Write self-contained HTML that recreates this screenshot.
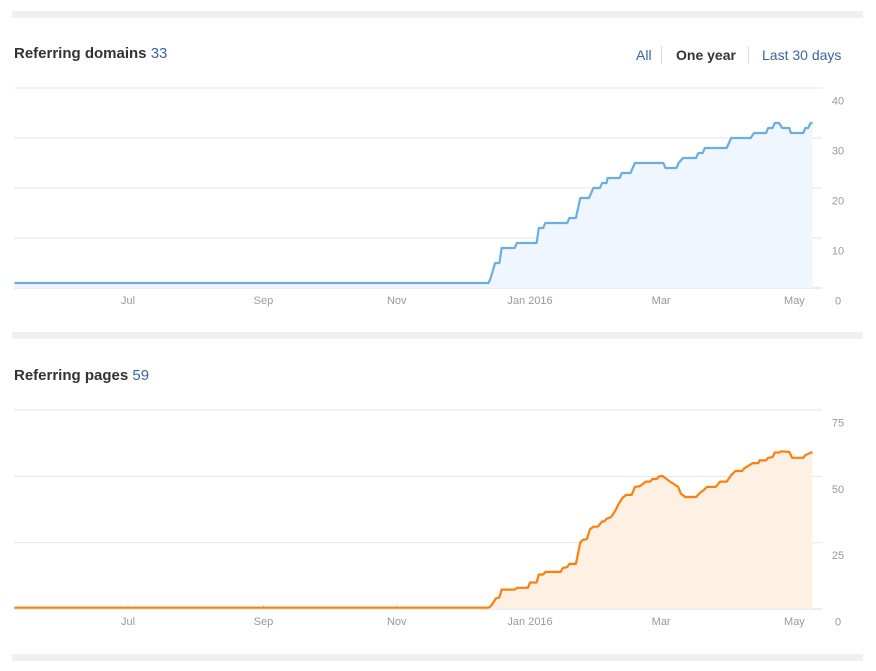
<!DOCTYPE html>
<html><head><meta charset="utf-8"><style>
body{margin:0;background:#fff;font-family:"Liberation Sans",sans-serif}
svg{display:block}
</style></head><body>
<svg id="s" width="876" height="671">
<rect x="12" y="11" width="851" height="7" fill="#f0f0f0"/>
<rect x="12" y="332" width="851" height="7" fill="#f0f0f0"/>
<rect x="12" y="654" width="851" height="7" fill="#f0f0f0"/>
<text x="14" y="58" font-size="15" font-weight="bold" fill="#333">Referring domains <tspan font-weight="normal" fill="#3a64a8">33</tspan></text>
<text x="636" y="60" font-size="14" fill="#3a64a8">All</text>
<rect x="661" y="46" width="1" height="18" fill="#ddd"/>
<text x="676" y="60" font-size="14" font-weight="bold" fill="#333">One year</text>
<rect x="748" y="46" width="1" height="18" fill="#ddd"/>
<text x="762" y="60" font-size="14" fill="#3a64a8">Last 30 days</text>
<text x="14" y="380" font-size="15" font-weight="bold" fill="#333">Referring pages <tspan font-weight="normal" fill="#3a64a8">59</tspan></text>
<g id="c1"></g><g id="c2"></g>
</svg>
<script>
const monthLabels=["Jul","Sep","Nov","Jan 2016","Mar","May"];
const monthDays=[0,62,123,184,244,305];
const domainDays=[-52,165,166,168,170,171,177,178,187,188,190,191,201,202,205,207,211,213,216,217,219,219.5,225,226,230,232,245,246,251,252,254,260,261,263,264,274,276,285,286.5,292,293,295,296,298,299.4,302.6,303.4,309,310,311.3,312.4,313.3];
const domainVals=[1,1,2,5,5,8,8,9,9,12,12,13,13,14,14,18,18,20,20,21,21,22,22,23,23,25,25,24,24,25,26,26,27,27,28,28,30,30,31,31,32,32,33,33,32,32,31,31,32,32,33,33];
const domainTicks=[0,10,20,30,40];
const pageDays=[-52,165,166,168.4,170,171,177,178,183,184,187,188,190,191,198,199,201,202,205,207,208,210,211.4,213,215,217,218,219,221,223,224.4,226.4,228,230.5,232,234,235.4,237,239,240,242,243,244.7,246.5,248,250,251.8,253,255,260,262,263,265,269,271,274,276,278,281,282,284,286,288.5,289,292,293,295,296,298,299,302.6,304,309,310,311.3,312.4,313.3];
const pageVals=[0.5,0.5,1,4,4.4,7.3,7.3,8,8,10,10,13,13,14,14,15.4,15.8,17,17,25,26,26.4,30,31,31,33,33,34,34.6,37,39.4,42,43,43,46,46.2,47,48,48,49,49,50,50.1,49,48,47,46,43.5,42.2,42.2,44,44.5,46,46,48,48,50.4,52,52,53,54,55,55,56,56,57,57.2,59,59,59.4,59.2,57,57,58,58.4,59,59];
const pageTicks=[0,25,50,75];
const NS="http://www.w3.org/2000/svg";
function mk(t,a,p){const e=document.createElementNS(NS,t);for(const k in a)e.setAttribute(k,a[k]);p.appendChild(e);return e;}
function chart(g,top,bottom,max,ticks,days,vals,stroke,fill,prefix){
  const X=d=>128+d*2.185, Y=v=>bottom-v*(bottom-top)/max;
  ticks.forEach(t=>{
    const l=mk('line',{x1:14,x2:822,y1:Y(t),y2:Y(t),stroke:t?'#e6e6e6':'#d8d8d8','stroke-width':1},g);
    
    
    const tx=mk('text',{x:838,y:Y(t)+16.5,'font-size':11,fill:'#999','text-anchor':'middle'},g);
    tx.textContent=t;
    
    
  });
  monthDays.forEach((d,i)=>{
    mk('line',{x1:X(d),x2:X(d),y1:bottom-4,y2:bottom,stroke:'#ccc'},g);
    const tx=mk('text',{x:X(d),y:bottom+16,'font-size':11,fill:'#999','text-anchor':'middle'},g);
    tx.textContent=monthLabels[i];
    
    
  });
  const pts=days.map((d,i)=>X(d).toFixed(1)+','+Y(vals[i]).toFixed(1));
  const area=mk('polygon',{points:X(days[0])+','+bottom+' '+pts.join(' ')+' '+X(days[days.length-1])+','+bottom,fill:fill},g);
  
  
  const line=mk('polyline',{points:pts.join(' '),fill:'none',stroke:stroke,'stroke-width':2.2,'stroke-linejoin':'round'},g);
  
  
}
chart(document.getElementById('c1'),88,288,40,domainTicks,domainDays,domainVals,'#6aaee2','#f0f6fd','domains');
chart(document.getElementById('c2'),410,609,75,pageTicks,pageDays,pageVals,'#ff7f0e','#fef1e4','pages');
</script>
</body></html>
